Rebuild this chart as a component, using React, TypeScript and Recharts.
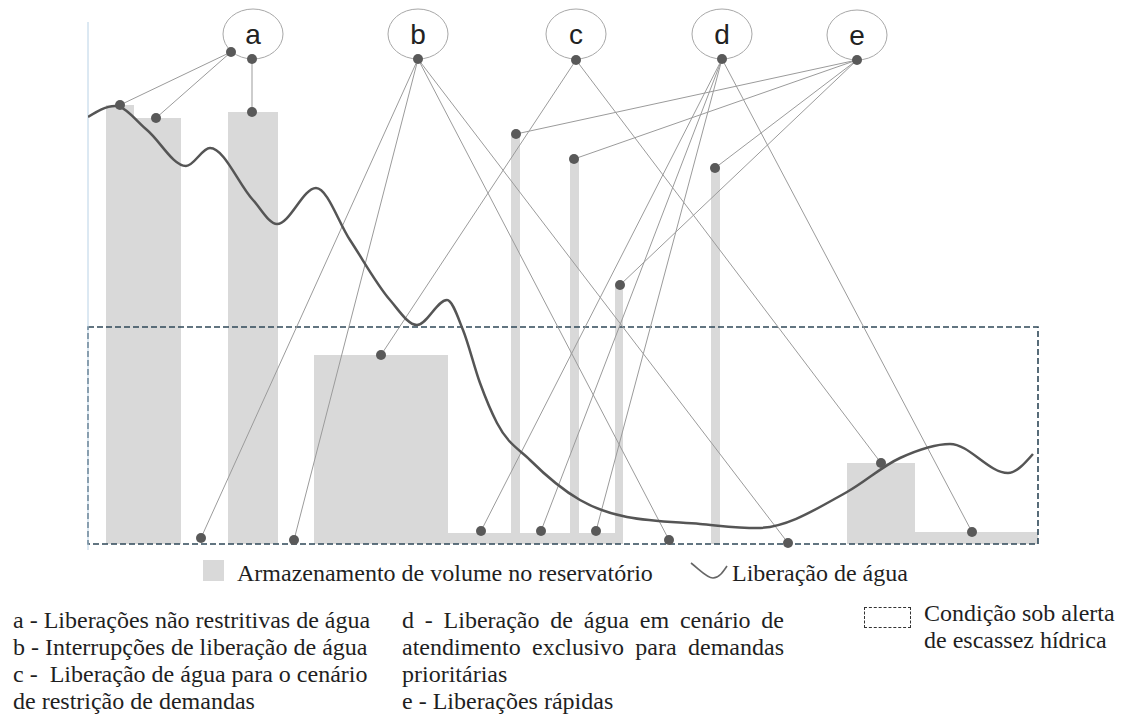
import { ComposedChart, Line, XAxis, YAxis, ReferenceArea, ReferenceLine, ReferenceDot } from 'recharts';

// eixo horizontal: tempo (unidades do desenho), eixo vertical: volume / liberação

// curva de liberação de água
const curveTime = [0, 27, 59, 98, 122, 165, 189, 228, 262, 302, 329, 359, 375, 392, 409, 442, 492, 539, 612, 669, 759, 812, 862, 920, 945];
const curveRelease = [427, 438, 414, 378, 396, 344, 320, 356, 304, 244, 219, 244, 214, 161, 121, 84, 44, 27, 20, 16, 52, 86, 100, 71, 90];

// armazenamento no reservatório (blocos cinza)
const barStart = [18, 46, 140, 226, 360, 423, 482, 527, 623, 759, 827];
const barEnd = [46, 93, 190, 360, 535, 432, 491, 535, 632, 827, 950];
const barVolume = [439, 426, 432, 189, 11, 410, 385, 259, 376, 81, 12];

// condição sob alerta
const alertStart = 0;
const alertEnd = 950;
const alertLevel = 217;

// rótulos a-e
const groupLabels = ['a', 'b', 'c', 'd', 'e'];
const groupTime = [165, 330, 488, 634, 769];
const groupLevel = [510, 510, 510, 510, 509];

// pontos de saída das ligações
const hubTime = [143, 164, 330, 488, 634, 769];
const hubLevel = [492, 485, 485, 484, 485, 484];

// ligações: índice do ponto de saída e ponto de destino
const linkHub = [0, 0, 1, 2, 2, 2, 2, 3, 3, 4, 4, 4, 4, 5, 5, 5, 5];
const linkTime = [32, 68, 164, 113, 206, 581, 700, 293, 793, 393, 453, 508, 884, 428, 486, 532, 627];
const linkLevel = [439, 426, 432, 6, 4, 4, 1, 189, 81, 13, 13, 13, 12, 410, 385, 259, 376];

const curveData = curveTime.map((t, i) => ({ t, release: curveRelease[i] }));

const serif = '"Liberation Serif", "Times New Roman", serif';
const textStyle = {
  position: 'absolute' as const,
  fontFamily: serif,
  fontSize: 24,
  lineHeight: '27px',
  color: '#1f1f1f',
  whiteSpace: 'nowrap' as const,
};

export default function App() {
  return (
    <div style={{ position: 'absolute', left: 0, top: 0, width: 1123, height: 726, background: '#fff', overflow: 'hidden' }}>
      <ComposedChart
        width={1123}
        height={560}
        data={curveData}
        margin={{ top: 0, right: 85, bottom: 10, left: 88 }}
      >
        <XAxis type="number" dataKey="t" domain={[0, 950]} hide allowDataOverflow />
        <YAxis type="number" domain={[-6, 544]} hide allowDataOverflow />

        {barStart.map((x1, i) => (
          <ReferenceArea
            key={`bar-${i}`}
            x1={x1}
            x2={barEnd[i]}
            y1={0}
            y2={barVolume[i]}
            fill="#d9d9d9"
            fillOpacity={1}
            stroke="none"
          />
        ))}

        <ReferenceArea
          x1={alertStart}
          x2={alertEnd}
          y1={0}
          y2={alertLevel}
          fill="none"
          fillOpacity={0}
          stroke="#2f4858"
          strokeWidth={1.6}
          strokeDasharray="6 3"
        />

        <ReferenceLine
          segment={[{ x: 0, y: 522 }, { x: 0, y: -6 }]}
          stroke="#b9d2e6"
          strokeWidth={1}
        />

        {linkHub.map((h, i) => (
          <ReferenceLine
            key={`link-${i}`}
            segment={[{ x: hubTime[h], y: hubLevel[h] }, { x: linkTime[i], y: linkLevel[i] }]}
            stroke="#9b9b9b"
            strokeWidth={1}
          />
        ))}

        <Line
          type="monotone"
          dataKey="release"
          stroke="#555555"
          strokeWidth={2.5}
          dot={false}
          activeDot={false}
          isAnimationActive={false}
        />

        {groupLabels.map((lab, i) => (
          <ReferenceDot
            key={`grp-${lab}`}
            x={groupTime[i]}
            y={groupLevel[i]}
            r={30}
            shape={(p: any) => (
              <g>
                <ellipse cx={p.cx} cy={p.cy} rx={30} ry={25} fill="none" stroke="#a8a8a8" strokeWidth={1} />
                <text
                  x={p.cx}
                  y={p.cy}
                  textAnchor="middle"
                  dominantBaseline="central"
                  fontFamily='"Liberation Sans", Arial, sans-serif'
                  fontSize={28}
                  fill="#222"
                >
                  {lab}
                </text>
              </g>
            )}
          />
        ))}

        {hubTime.map((x, i) => (
          <ReferenceDot key={`hub-${i}`} x={x} y={hubLevel[i]} r={5} fill="#595959" stroke="none" />
        ))}

        {linkTime.map((x, i) => (
          <ReferenceDot key={`pt-${i}`} x={x} y={linkLevel[i]} r={5} fill="#595959" stroke="none" />
        ))}
      </ComposedChart>

      {/* legenda */}
      <div style={{ position: 'absolute', left: 203, top: 560, width: 21, height: 21, background: '#d9d9d9' }} />
      <div style={{ ...textStyle, left: 237, top: 560 }}>Armazenamento de volume no reservatório</div>
      <svg style={{ position: 'absolute', left: 690, top: 560 }} width={40} height={22}>
        <path d="M1 3 C 10 10, 17 18, 23 18 C 29 18, 33 12, 37 6" fill="none" stroke="#666" strokeWidth={1.6} />
      </svg>
      <div style={{ ...textStyle, left: 732, top: 560 }}>Liberação de água</div>

      {/* descrições */}
      <div style={{ ...textStyle, left: 13, top: 607, whiteSpace: 'pre' }}>
        <div>a - Liberações não restritivas de água</div>
        <div>b - Interrupções de liberação de água</div>
        <div>c -  Liberação de água para o cenário</div>
        <div>de restrição de demandas</div>
      </div>

      <div style={{ ...textStyle, left: 402, top: 607, width: 382, whiteSpace: 'normal' }}>
        <div style={{ textAlign: 'justify', textAlignLast: 'justify' }}>d - Liberação de água em cenário de</div>
        <div style={{ textAlign: 'justify', textAlignLast: 'justify' }}>atendimento exclusivo para demandas</div>
        <div>prioritárias</div>
        <div>e - Liberações rápidas</div>
      </div>

      <div style={{ position: 'absolute', left: 864, top: 607, width: 45, height: 19, border: '1px dashed #333' }} />
      <div style={{ ...textStyle, left: 924, top: 600 }}>
        <div>Condição sob alerta</div>
        <div>de escassez hídrica</div>
      </div>
    </div>
  );
}
